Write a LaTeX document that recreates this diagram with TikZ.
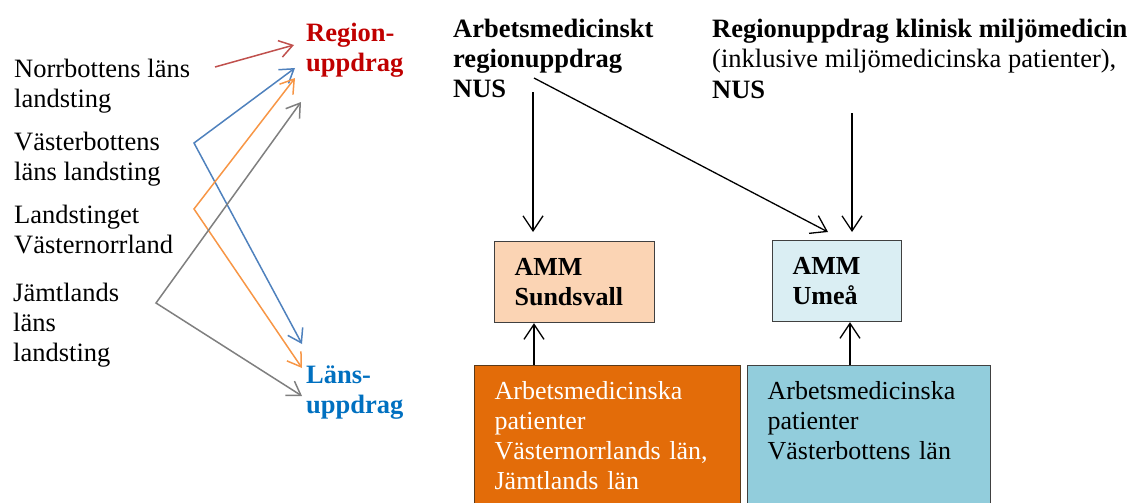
\documentclass[tikz,border=0pt]{standalone}
\usepackage{fontspec}
\setmainfont{Liberation Serif}
\usetikzlibrary{arrows.meta}
\definecolor{regred}{HTML}{C00000}
\definecolor{lansblue}{HTML}{0070C0}
\definecolor{arred}{HTML}{C0504D}
\definecolor{arblue}{HTML}{4F81BD}
\definecolor{arorange}{HTML}{F79646}
\definecolor{argray}{HTML}{7F7F7F}
\definecolor{sundfill}{HTML}{FBD4B4}
\definecolor{umefill}{HTML}{DAEEF3}
\definecolor{orfill}{HTML}{E36C09}
\definecolor{blfill}{HTML}{92CDDC}
\definecolor{boxline}{HTML}{404040}
\definecolor{orline}{HTML}{5A3A1A}
\begin{document}
\begin{tikzpicture}[x=1pt,y=-1pt,
  txt/.style={inner sep=0pt, anchor=base west, align=left, font=\fontsize{26.5}{30}\selectfont},
  btxt/.style={txt, font=\fontsize{26.5}{30}\selectfont\bfseries},
  cbox/.style={rectangle, anchor=north west, inner xsep=20pt, align=left, line width=1.2pt, font=\fontsize{26}{30}\selectfont},
  blk/.style={line width=1.3pt, -{Straight Barb[length=15pt,width=20pt,line width=1.3pt]}},
  col/.style={line width=1.5pt, {Straight Barb[length=13pt,width=17pt,line width=1.5pt]}-{Straight Barb[length=13pt,width=17pt,line width=1.5pt]}},
  cone/.style={line width=1.5pt, -{Straight Barb[length=13pt,width=17pt,line width=1.5pt]}}
]
\useasboundingbox (0,0) rectangle (1130,503);
\clip (0,0) rectangle (1130,503);

% left labels (anchored at the baseline of the last line)
\node[txt] (norr) at (14,107) {Norrbottens läns\\landsting};
\node[txt] (vbt) at (14,180) {Västerbottens\\läns landsting};
\node[txt] (vnl) at (14,253) {Landstinget\\Västernorrland};
\node[txt] (jmt) at (13,361) {Jämtlands\\läns\\landsting};
\node[btxt, text=regred] (reg) at (306,72) {Region-\\uppdrag};
\node[btxt, text=lansblue] (lans) at (306,413) {Läns-\\uppdrag};

% left connectors
\coordinate (redS) at (215,67);
\coordinate (redT) at (294,45);
\coordinate (bluR) at (295,68);
\coordinate (bluC) at (194,143);
\coordinate (bluL) at (302,344);
\coordinate (oraR) at (295,78);
\coordinate (oraC) at (194,209);
\coordinate (oraL) at (302,368);
\coordinate (graR) at (301,102);
\coordinate (graC) at (156,303);
\coordinate (graL) at (302,396);
\draw[cone, arred] (redS) -- (redT);
\draw[col, arblue] (bluR) -- (bluC) -- (bluL);
\draw[col, arorange] (oraR) -- (oraC) -- (oraL);
\draw[col, argray] (graR) -- (graC) -- (graL);

% headings
\node[btxt] (arb) at (453,97) {Arbetsmedicinskt\\regionuppdrag\\NUS};
\node[txt] (klin) at (712,99) {\textbf{Regionuppdrag klinisk miljömedicin}\\(inklusive miljömedicinska patienter),\\[2pt]\textbf{NUS}};

% boxes
\node[cbox, fill=sundfill, draw=boxline, minimum height=81pt, text width=120pt, font=\fontsize{26}{30}\selectfont\bfseries] (sund) at (494,241) {AMM\\Sundsvall};
\node[cbox, fill=umefill, draw=boxline, minimum height=81pt, text width=89pt, inner xsep=20pt, font=\fontsize{26}{30}\selectfont\bfseries] (ume) at (772,240) {AMM\\Umeå};
\node[cbox, fill=orfill, draw=orline, text=white, text width=226pt, inner ysep=16pt] (orb) at (474,365) {Arbetsmedicinska\\patienter\\Västernorrlands län,\\Jämtlands län};
\node[cbox, fill=blfill, draw=boxline, text width=203pt, inner ysep=16pt] (blb) at (747,365) {Arbetsmedicinska\\patienter\\Västerbottens län\\\mbox{}};

% right connectors
\coordinate (a1s) at (533,92);
\draw[blk, shorten >=9pt] (a1s) -- (a1s |- sund.north);
\coordinate (a2s) at (534,78);
\coordinate (a2e) at (828,232);
\draw[blk] (a2s) -- (a2e);
\coordinate (a3s) at (852,113);
\draw[blk, shorten >=8pt] (a3s) -- (a3s |- ume.north);
\coordinate (u1) at (534,365);
\draw[blk] (u1) -- (u1 |- sund.south);
\coordinate (u2) at (850,365);
\draw[blk] (u2) -- (u2 |- ume.south);
\end{tikzpicture}
\end{document}
